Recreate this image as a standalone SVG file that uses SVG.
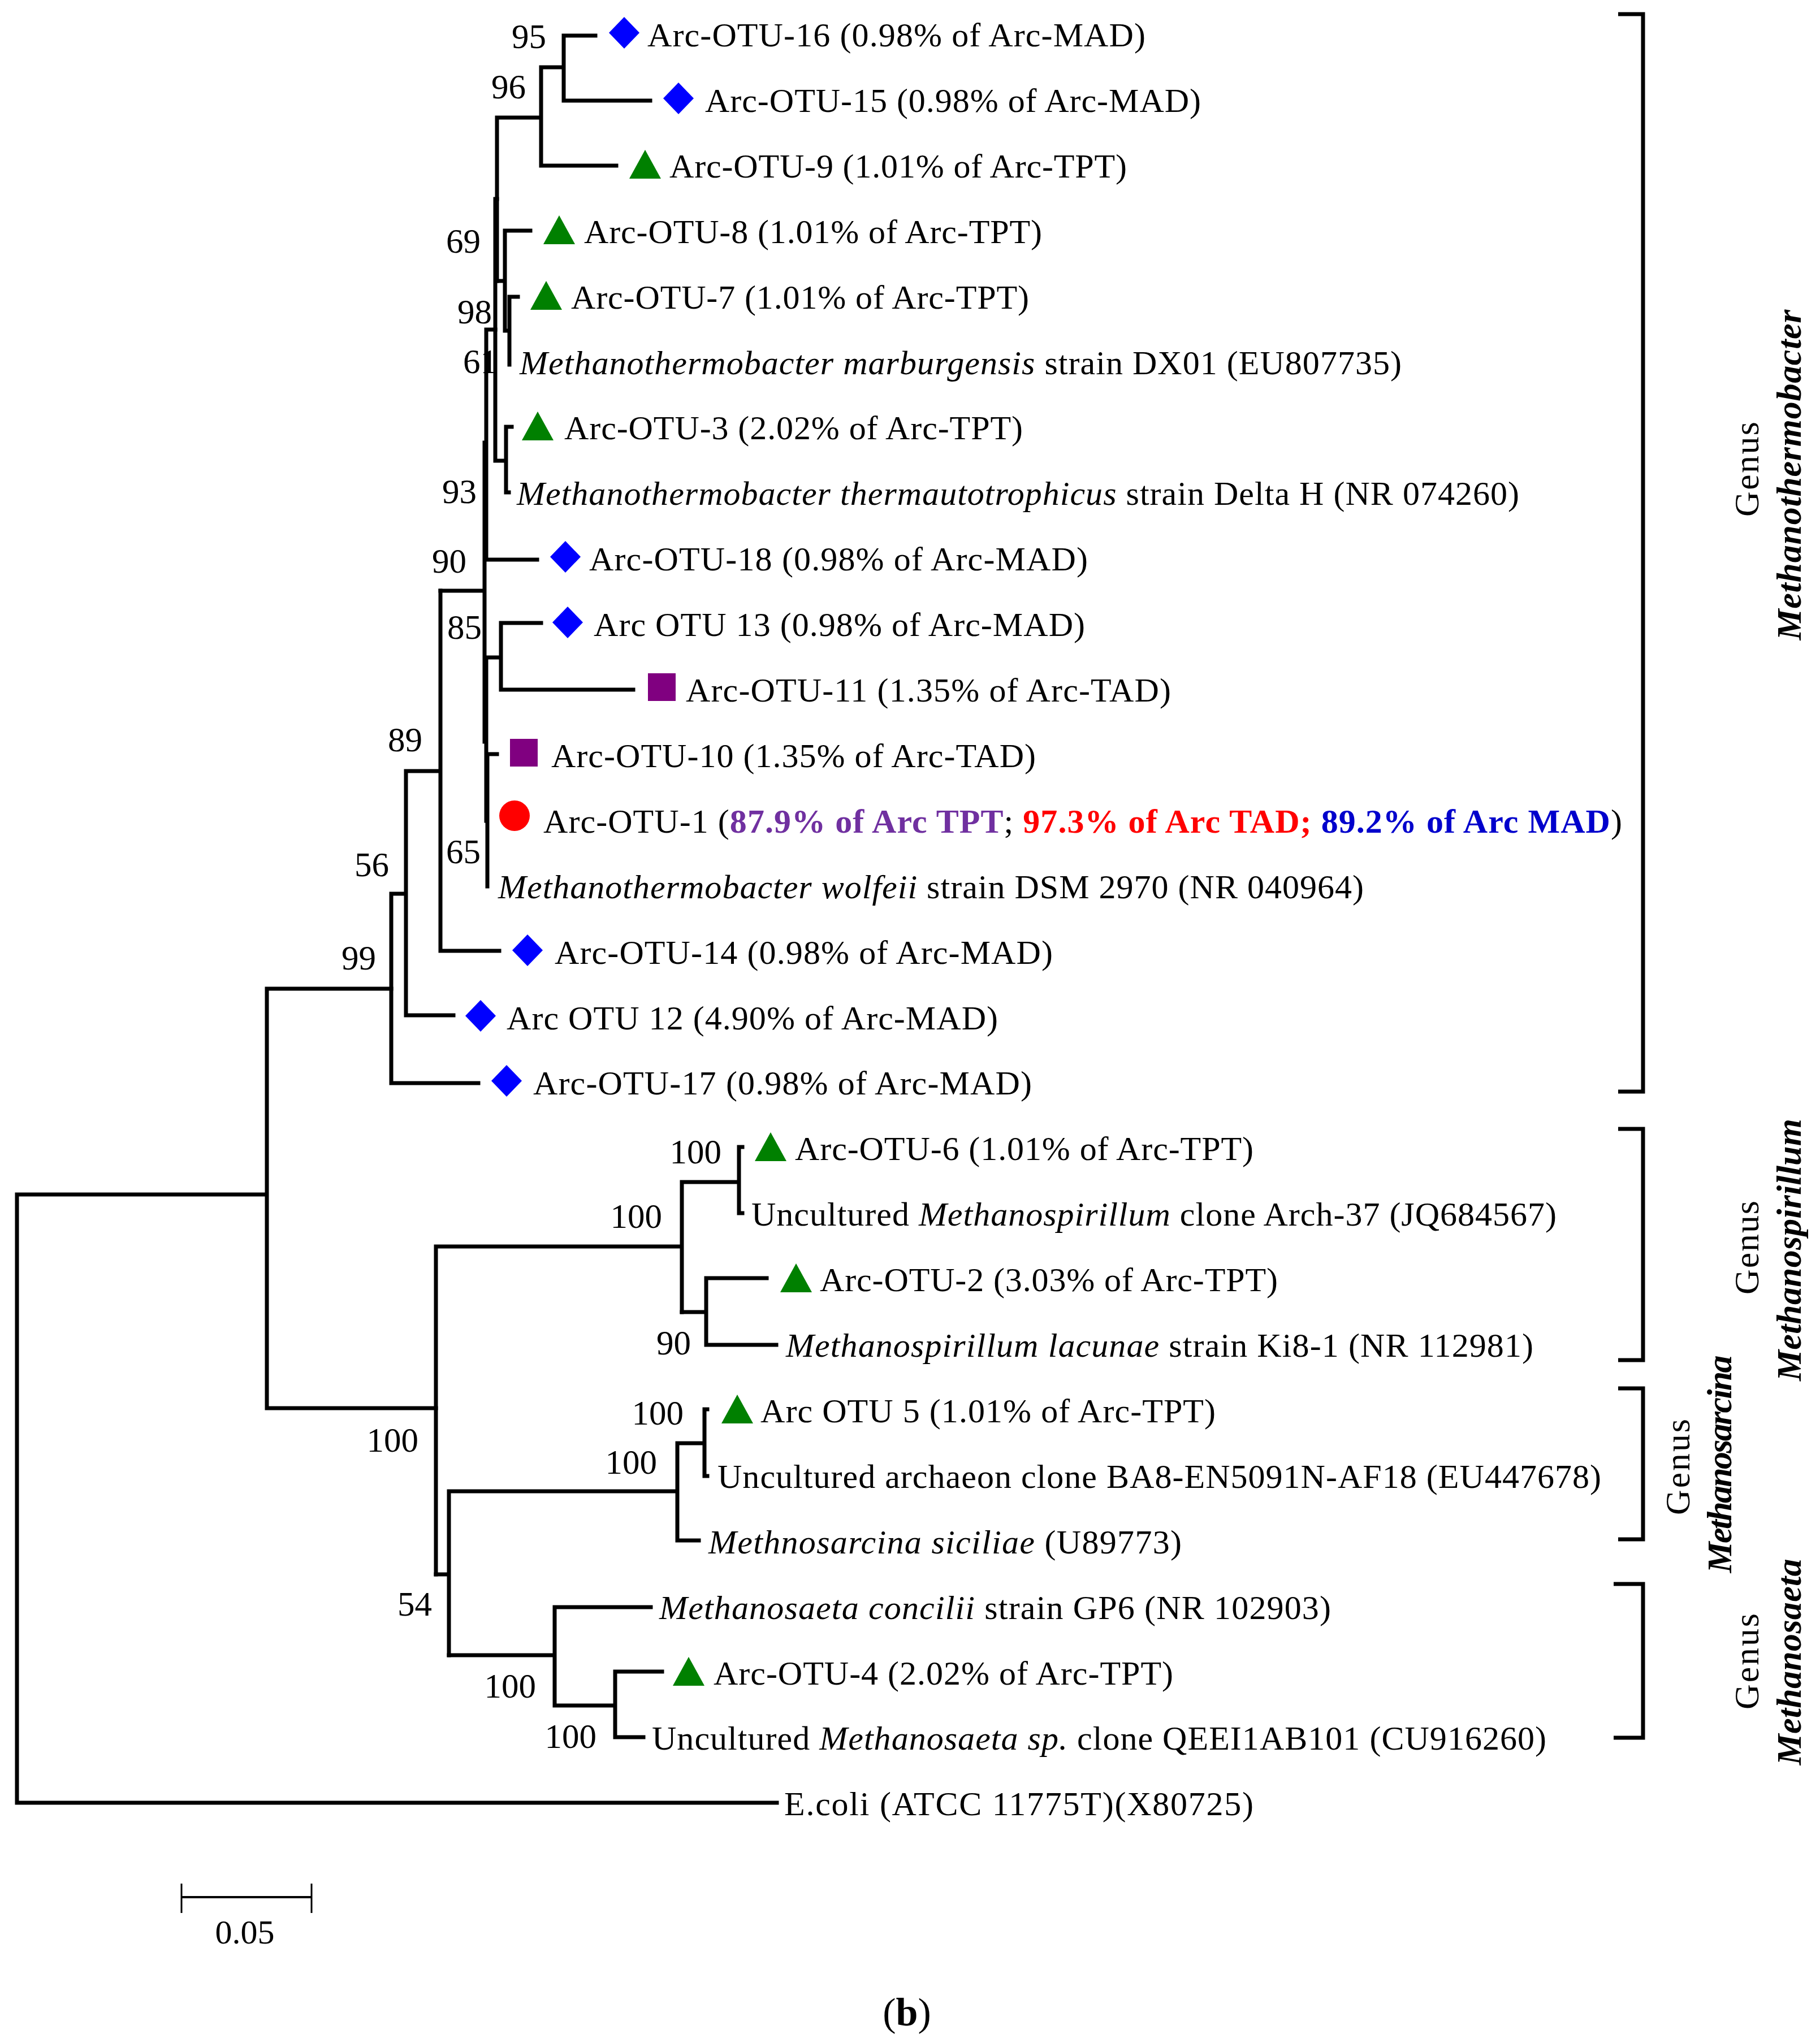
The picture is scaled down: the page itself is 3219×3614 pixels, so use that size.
<svg xmlns="http://www.w3.org/2000/svg" width="3219" height="3614" viewBox="0 0 3219 3614">
<style>
  text { font-family: 'Liberation Serif', 'Times New Roman', serif; fill: #000; }
  .lab { font-size: 60px; }
  .bs { font-size: 61px; text-anchor: end; }
  .br { fill: none; stroke: #000; stroke-width: 7; stroke-linecap: square; stroke-linejoin: miter; }
  .brk { fill: none; stroke: #000; stroke-width: 7; }
  .gen { font-size: 62px; text-anchor: middle; }
  .genb { font-size: 62px; text-anchor: middle; font-style: italic; font-weight: bold; }
  .dia { fill: #0000FF; }
  .tri { fill: #008000; }
  .sq { fill: #800080; }
  .cir { fill: #FF0000; }
  .i { font-style: italic; }
</style>
<defs>
  <polygon id="diamond" class="dia" points="0,-28 27,0 0,28 -27,0"/>
  <polygon id="triangle" class="tri" points="0,-29 28,22 -28,22"/>
  <rect id="square" class="sq" x="-24" y="-30" width="49" height="49"/>
  <circle id="circle" class="cir" r="27"/>
</defs>
<rect width="3219" height="3614" fill="#fff"/>

<g id="connectors" class="br">
  <path d="M997 63 H1053 M997 63 V178 H1150 M957 119 H997 M957 119 V293 H1090 M879 208 H957 M879 208 V497"/>
  <path d="M893 408 H938 M893 408 V585 M879 497 H893 M901 525 H916 M901 525 V645 M893 585 H901"/>
  <path d="M876 352 V815 M876 352 H879 M895 755 H905 M895 755 V871 H900 M876 815 H895"/>
  <path d="M860 583 V990 M860 583 H876 M860 990 H950 M857 783 V1312 M779 1045 H857"/>
  <path d="M886 1102 V1220 M886 1102 H957 M886 1220 H1120 M860 1163 H886 M860 1163 V1452 M862 1336 V1568 M862 1334 H879"/>
  <path d="M779 1045 V1682 H883 M718 1364 H779 M718 1364 V1796 H802 M692 1581 H718 M692 1581 V1916 H846"/>
  <path d="M472 1749 H692 M472 1749 V2491 H771 M30 2113 H472 M30 2113 V3189 H1374"/>
  <path d="M771 2205 V2785 M771 2205 H1206 M1206 2091 V2321 M1206 2091 H1307 M1307 2029 V2146 M1307 2029 H1313 M1307 2146 H1313"/>
  <path d="M1206 2321 H1249 M1249 2261 V2379 M1249 2261 H1356 M1249 2379 H1373"/>
  <path d="M771 2785 H794 M794 2638 V2928 M794 2638 H1198 M1198 2553 V2725 M1198 2553 H1246 M1246 2493 V2611 M1246 2493 H1251 M1246 2611 H1251 M1198 2725 H1236"/>
  <path d="M794 2928 H981 M981 2843 V3017 M981 2843 H1151 M981 3017 H1088 M1088 2957 V3073 M1088 2957 H1171 M1088 3073 H1138"/>
</g>

<g id="bootstrap">
  <text class="bs" x="966" y="85">95</text>
  <text class="bs" x="930" y="174">96</text>
  <text class="bs" x="850" y="447">69</text>
  <text class="bs" x="870" y="572">98</text>
  <text class="bs" x="880" y="660">61</text>
  <text class="bs" x="843" y="890">93</text>
  <text class="bs" x="825" y="1013">90</text>
  <text class="bs" x="852" y="1130">85</text>
  <text class="bs" x="747" y="1329">89</text>
  <text class="bs" x="850" y="1527">65</text>
  <text class="bs" x="688" y="1550">56</text>
  <text class="bs" x="665" y="1715">99</text>
  <text class="bs" x="1276" y="2058">100</text>
  <text class="bs" x="1171" y="2172">100</text>
  <text class="bs" x="1222" y="2396">90</text>
  <text class="bs" x="1209" y="2520">100</text>
  <text class="bs" x="1162" y="2607">100</text>
  <text class="bs" x="740" y="2568">100</text>
  <text class="bs" x="764" y="2858">54</text>
  <text class="bs" x="948" y="3003">100</text>
  <text class="bs" x="1055" y="3092">100</text>
</g>

<g id="leaf-otu16"><use href="#diamond" x="1104" y="58"/><text class="lab" x="1145" y="82" textLength="881">Arc-OTU-16 (0.98% of Arc-MAD)</text></g>
<g id="leaf-otu15"><use href="#diamond" x="1200" y="174"/><text class="lab" x="1247" y="198" textLength="877">Arc-OTU-15 (0.98% of Arc-MAD)</text></g>
<g id="leaf-otu9"><use href="#triangle" x="1141" y="294"/><text class="lab" x="1184" y="314" textLength="809">Arc-OTU-9 (1.01% of Arc-TPT)</text></g>
<g id="leaf-otu8"><use href="#triangle" x="989" y="410"/><text class="lab" x="1033" y="430" textLength="810">Arc-OTU-8 (1.01% of Arc-TPT)</text></g>
<g id="leaf-otu7"><use href="#triangle" x="966" y="526"/><text class="lab" x="1010" y="546" textLength="810">Arc-OTU-7 (1.01% of Arc-TPT)</text></g>
<g id="leaf-marburgensis"><text class="lab" x="919" y="662" textLength="1560"><tspan class="i">Methanothermobacter marburgensis</tspan> strain DX01 (EU807735)</text></g>
<g id="leaf-otu3"><use href="#triangle" x="951" y="757"/><text class="lab" x="998" y="777" textLength="811">Arc-OTU-3 (2.02% of Arc-TPT)</text></g>
<g id="leaf-thermautotrophicus"><text class="lab" x="914" y="893" textLength="1773"><tspan class="i">Methanothermobacter thermautotrophicus</tspan> strain Delta H (NR 074260)</text></g>
<g id="leaf-otu18"><use href="#diamond" x="1000" y="985"/><text class="lab" x="1042" y="1009" textLength="882">Arc-OTU-18 (0.98% of Arc-MAD)</text></g>
<g id="leaf-otu13"><use href="#diamond" x="1004" y="1101"/><text class="lab" x="1050" y="1125" textLength="869">Arc OTU 13 (0.98% of Arc-MAD)</text></g>
<g id="leaf-otu11"><use href="#square" x="1170" y="1221"/><text class="lab" x="1213" y="1241" textLength="858">Arc-OTU-11 (1.35% of Arc-TAD)</text></g>
<g id="leaf-otu10"><use href="#square" x="926" y="1337"/><text class="lab" x="975" y="1357" textLength="857">Arc-OTU-10 (1.35% of Arc-TAD)</text></g>
<g id="leaf-otu1"><use href="#circle" x="910" y="1443"/><text class="lab" x="961" y="1473" textLength="1908">Arc-OTU-1 (<tspan fill="#7030A0" font-weight="bold">87.9% of Arc TPT</tspan>; <tspan fill="#FF0000" font-weight="bold">97.3% of Arc TAD;</tspan> <tspan fill="#0000CC" font-weight="bold">89.2% of Arc MAD</tspan>)</text></g>
<g id="leaf-wolfeii"><text class="lab" x="881" y="1589" textLength="1531"><tspan class="i">Methanothermobacter wolfeii</tspan> strain DSM 2970 (NR 040964)</text></g>
<g id="leaf-otu14"><use href="#diamond" x="933" y="1681"/><text class="lab" x="981" y="1705" textLength="881">Arc-OTU-14 (0.98% of Arc-MAD)</text></g>
<g id="leaf-otu12"><use href="#diamond" x="850" y="1797"/><text class="lab" x="896" y="1821" textLength="869">Arc OTU 12 (4.90% of Arc-MAD)</text></g>
<g id="leaf-otu17"><use href="#diamond" x="896" y="1912"/><text class="lab" x="943" y="1936" textLength="882">Arc-OTU-17 (0.98% of Arc-MAD)</text></g>
<g id="leaf-otu6"><use href="#triangle" x="1363" y="2032"/><text class="lab" x="1406" y="2052" textLength="811">Arc-OTU-6 (1.01% of Arc-TPT)</text></g>
<g id="leaf-arch37"><text class="lab" x="1329" y="2168" textLength="1424">Uncultured <tspan class="i">Methanospirillum</tspan> clone Arch-37 (JQ684567)</text></g>
<g id="leaf-otu2"><use href="#triangle" x="1408" y="2264"/><text class="lab" x="1450" y="2284" textLength="810">Arc-OTU-2 (3.03% of Arc-TPT)</text></g>
<g id="leaf-lacunae"><text class="lab" x="1390" y="2400" textLength="1322"><tspan class="i">Methanospirillum lacunae</tspan> strain Ki8-1 (NR 112981)</text></g>
<g id="leaf-otu5"><use href="#triangle" x="1304" y="2496"/><text class="lab" x="1345" y="2516" textLength="805">Arc OTU 5 (1.01% of Arc-TPT)</text></g>
<g id="leaf-ba8"><text class="lab" x="1269" y="2632" textLength="1563">Uncultured archaeon clone BA8-EN5091N-AF18 (EU447678)</text></g>
<g id="leaf-siciliae"><text class="lab" x="1253" y="2748" textLength="837"><tspan class="i">Methnosarcina siciliae</tspan> (U89773)</text></g>
<g id="leaf-concilii"><text class="lab" x="1166" y="2864" textLength="1188"><tspan class="i">Methanosaeta concilii</tspan> strain GP6 (NR 102903)</text></g>
<g id="leaf-otu4"><use href="#triangle" x="1218" y="2960"/><text class="lab" x="1262" y="2980" textLength="813">Arc-OTU-4 (2.02% of Arc-TPT)</text></g>
<g id="leaf-qeei"><text class="lab" x="1153" y="3095" textLength="1582">Uncultured <tspan class="i">Methanosaeta sp.</tspan> clone QEEI1AB101 (CU916260)</text></g>
<g id="leaf-ecoli"><text class="lab" x="1387" y="3211" textLength="830">E.coli (ATCC 11775T)(X80725)</text></g>

<g id="clade-methanothermobacter">
  <path class="brk" d="M2862 25 H2906 V1931 H2862"/>
  <text class="gen" transform="translate(3110,830) rotate(-90)" textLength="168">Genus</text>
  <text class="genb" transform="translate(3185,840) rotate(-90)" textLength="585">Methanothermobacter</text>
</g>
<g id="clade-methanospirillum">
  <path class="brk" d="M2862 1997 H2906 V2406 H2862"/>
  <text class="gen" transform="translate(3110,2207) rotate(-90)" textLength="166">Genus</text>
  <text class="genb" transform="translate(3185,2211) rotate(-90)" textLength="464">Methanospirillum</text>
</g>
<g id="clade-methanosarcina">
  <path class="brk" d="M2862 2456 H2906 V2723 H2862"/>
  <text class="gen" transform="translate(2988,2595) rotate(-90)" textLength="170">Genus</text>
  <text class="genb" transform="translate(3062,2590) rotate(-90)" textLength="385">Methanosarcina</text>
</g>
<g id="clade-methanosaeta">
  <path class="brk" d="M2854 2802 H2906 V3074 H2854"/>
  <text class="gen" transform="translate(3110,2939) rotate(-90)" textLength="170">Genus</text>
  <text class="genb" transform="translate(3185,2940) rotate(-90)" textLength="365">Methanosaeta</text>
</g>

<g id="scale-bar">
  <path d="M321 3356 H551" stroke="#000" stroke-width="4" fill="none"/>
  <path d="M321 3332 V3384 M551 3332 V3384" stroke="#000" stroke-width="3" fill="none"/>
  <text class="lab" x="433" y="3438" text-anchor="middle">0.05</text>
</g>
<g id="caption">
  <text x="1604" y="3583" text-anchor="middle" font-size="70">(<tspan font-weight="bold">b</tspan>)</text>
</g>
</svg>
